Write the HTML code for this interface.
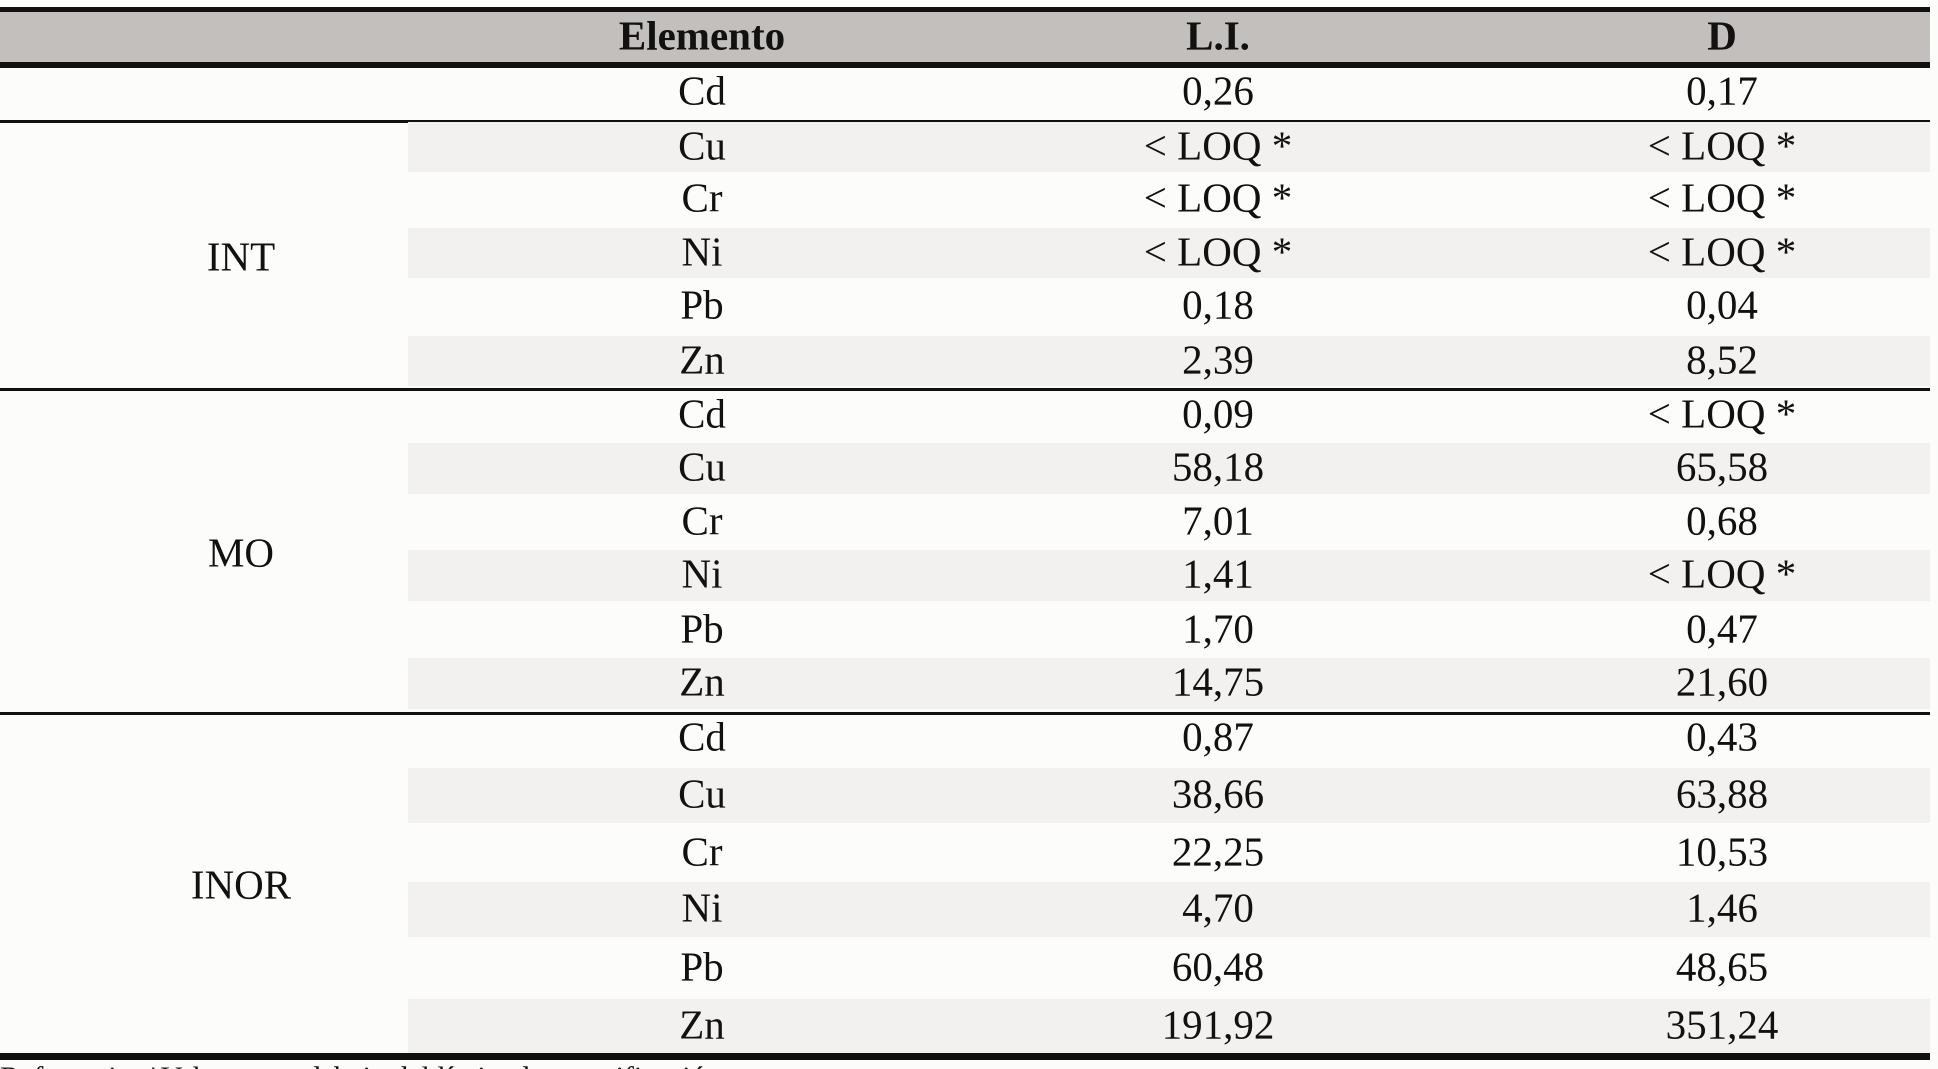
<!DOCTYPE html>
<html><head><meta charset="utf-8"><style>
html,body{margin:0;padding:0;background:#fcfcfb;}
#t{position:relative;width:1938px;height:1069px;overflow:hidden;font-family:"Liberation Serif",serif;font-size:41px;color:#111;background:#fcfcfb;}
.c{position:absolute;text-align:center;line-height:1;white-space:nowrap;transform:translate(-50%,-50%);}
.ln{position:absolute;left:0;width:1930px;background:#111;}
.sh{position:absolute;left:408px;width:1522px;background:#f3f1ef;}
</style></head><body>
<div id="t">
<div class="ln" style="top:7px;height:5px"></div>
<div style="position:absolute;left:0;top:12px;width:1930px;height:51px;background:#c2bfbc"></div>
<div class="ln" style="top:62px;height:6px"></div>
<div class="c" style="left:702px;top:36px;font-weight:bold">Elemento</div>
<div class="c" style="left:1218px;top:36px;font-weight:bold">L.I.</div>
<div class="c" style="left:1722px;top:36px;font-weight:bold">D</div>
<div id="body"></div>
<div style="position:absolute;left:0;top:1061px;font-size:30px">Referencia: *Valores por debajo del límite de cuantificación</div>
</div>
<script>
const groups=["","INT","MO","INOR"];
const elements=[["Cd"],["Cu","Cr","Ni","Pb","Zn"],["Cd","Cu","Cr","Ni","Pb","Zn"],["Cd","Cu","Cr","Ni","Pb","Zn"]];
const liValues=[["0,26"],["< LOQ *","< LOQ *","< LOQ *","0,18","2,39"],["0,09","58,18","7,01","1,41","1,70","14,75"],["0,87","38,66","22,25","4,70","60,48","191,92"]];
const dValues=[["0,17"],["< LOQ *","< LOQ *","< LOQ *","0,04","8,52"],["< LOQ *","65,58","0,68","< LOQ *","0,47","21,60"],["0,43","63,88","10,53","1,46","48,65","351,24"]];
const rowCenters=[[91],[146,198,252,305,360],[414,467,521,574,629,682],[737,794,852,908,967,1025]];
const groupBounds=[[68,121],[121,389],[389,713],[713,1053]];
const shaded=[[],[0,2,4],[1,3,5],[1,3,5]];
const body=document.getElementById('t');
function add(cls,style,text){const d=document.createElement('div');d.className=cls;d.style.cssText=style;if(text!==undefined)d.textContent=text;body.appendChild(d);return d;}
groups.forEach((g,gi)=>{
  const [top,bot]=groupBounds[gi];
  const rc=rowCenters[gi];
  shaded[gi].forEach(ri=>{
    const h=(rc[1]?rc[1]-rc[0]:53);
    const s=add('sh','top:'+(rc[ri]-h/2+2)+'px;height:'+(h-2)+'px');
    
    
  });
  const l=add('ln','top:'+(gi===3?1053:bot-1)+'px;height:'+(gi===3?7:3)+'px');
  
  
  if(g){const gl=add('c','left:241px;top:'+((top+bot)/2+2)+'px',g);
    
    }
  elements[gi].forEach((e,ri)=>{
    const a=add('c','left:702px;top:'+rc[ri]+'px',e);
    
    
    const b=add('c','left:1218px;top:'+rc[ri]+'px',liValues[gi][ri]);
    
    
    const c=add('c','left:1722px;top:'+rc[ri]+'px',dValues[gi][ri]);
    
    
  });
});
</script>
</body></html>
